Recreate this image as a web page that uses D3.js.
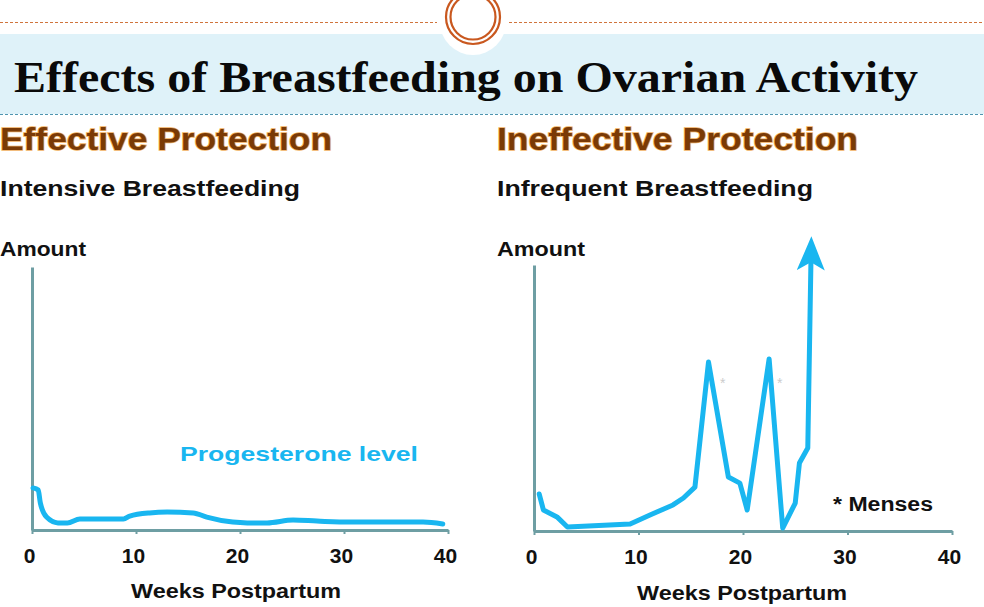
<!DOCTYPE html>
<html>
<head>
<meta charset="utf-8">
<script src="https://cdn.jsdelivr.net/npm/d3@7"></script>
<style>
	body { margin: 0; background: #fff; }
	svg { display: block; }
	.sans { font-family: "Liberation Sans", Arial, sans-serif; font-weight: bold; }
	.axis path { stroke: #6e9ea3; stroke-width: 3; }
	.axis line { stroke: #6e9ea3; stroke-width: 2; }
	.axis text { font-family: "Liberation Sans", Arial, sans-serif; font-weight: bold; font-size: 21px; fill: #111; }
</style>
</head>
<body>
<script>

// data (weeks postpartum, relative amount 0-100)
var weekTicks = [0, 10, 20, 30, 40];

var intensiveWeeks  = [0.1, 0.6, 0.8, 1.4, 2.5, 3.4, 4.6, 6.5, 8.8, 9.4, 11.3, 13.0, 15.5, 16.8, 19.3, 20.7, 22.6, 25.1, 27.4, 30.6, 33.8, 37.6, 39.5];
var intensiveAmount = [16.0, 15.2, 10.3, 4.9, 2.7, 2.7, 4.2, 4.2, 4.2, 5.3, 6.5, 6.8, 6.5, 4.9, 3.0, 2.7, 2.7, 3.8, 3.4, 3.0, 3.0, 3.0, 2.3];

var infrequentWeeks  = [0.5, 0.9, 2.2, 3.2, 9.2, 11.1, 13.3, 14.3, 15.4, 16.7, 18.6, 19.7, 20.4, 22.5, 23.8, 25.0, 25.4, 26.2, 26.5];
var infrequentAmount = [13.9, 7.9, 5.3, 1.5, 2.6, 6.0, 9.8, 12.4, 16.5, 63.5, 20.3, 18.0, 7.9, 64.7, 1.1, 10.5, 25.6, 31.2, 101];

var w = 984;
var h = 607;
var blue = "#19b6f0";

var svg = d3.select("body")
	.append("svg")
	.attr("width", w)
	.attr("height", h);

// header band
svg.append("rect")
	.attr("x", 0).attr("y", 34)
	.attr("width", w).attr("height", 80)
	.attr("fill", "#dff2f9");

svg.append("line")
	.attr("x1", 0).attr("x2", w)
	.attr("y1", 114.5).attr("y2", 114.5)
	.attr("stroke", "#4f95b0")
	.attr("stroke-width", 1)
	.attr("stroke-dasharray", "3,2");

svg.append("line")
	.attr("x1", 0).attr("x2", 437)
	.attr("y1", 22.5).attr("y2", 22.5)
	.attr("stroke", "#d0743c")
	.attr("stroke-width", 1)
	.attr("stroke-dasharray", "3,2");

svg.append("line")
	.attr("x1", 509).attr("x2", w)
	.attr("y1", 22.5).attr("y2", 22.5)
	.attr("stroke", "#d0743c")
	.attr("stroke-width", 1)
	.attr("stroke-dasharray", "3,2");

// circle ornament
svg.append("circle")
	.attr("cx", 473).attr("cy", 22).attr("r", 33)
	.attr("fill", "#fff");

svg.append("circle")
	.attr("cx", 473).attr("cy", 17).attr("r", 27)
	.attr("fill", "none")
	.attr("stroke", "#c9581f")
	.attr("stroke-width", 2.2);

svg.append("circle")
	.attr("cx", 473).attr("cy", 17).attr("r", 22.5)
	.attr("fill", "none")
	.attr("stroke", "#c9581f")
	.attr("stroke-width", 2.2);

svg.append("text")
	.text("Effects of Breastfeeding on Ovarian Activity")
	.attr("x", 14)
	.attr("y", 92)
	.attr("font-family", "'Liberation Serif', 'Times New Roman', serif")
	.attr("font-weight", "bold")
	.attr("font-size", "45px")
	.attr("textLength", 904)
	.attr("lengthAdjust", "spacingAndGlyphs")
	.attr("fill", "#0a0a0a");

// arrow head for the rising line
svg.append("defs")
	.append("marker")
	.attr("id", "arrow")
	.attr("markerUnits", "userSpaceOnUse")
	.attr("viewBox", "0 0 34 28")
	.attr("markerWidth", 34)
	.attr("markerHeight", 28)
	.attr("refX", 8)
	.attr("refY", 14)
	.attr("orient", "auto")
	.append("path")
	.attr("d", "M0,0 L34,14 L0,28 L8,14 Z")
	.attr("fill", blue);

function panel(opts) {
	var g = svg.append("g");

	var xScale = d3.scaleLinear()
		.domain([0, 40])
		.range([opts.x0, opts.x1]);

	var yScale = d3.scaleLinear()
		.domain([0, 100])
		.range([opts.y0, opts.y1]);

	// headings
	g.append("text")
		.text(opts.heading)
		.attr("class", "sans")
		.attr("x", opts.hx).attr("y", 150)
		.attr("font-size", "32px")
		.attr("textLength", opts.hw)
		.attr("lengthAdjust", "spacingAndGlyphs")
		.attr("fill", "#7a3a06")
		.attr("stroke", "#f0b060")
		.attr("stroke-width", 1.6)
		.attr("paint-order", "stroke");

	g.append("text")
		.text(opts.sub)
		.attr("class", "sans")
		.attr("x", opts.hx).attr("y", 196)
		.attr("font-size", "22px")
		.attr("textLength", opts.sw)
		.attr("lengthAdjust", "spacingAndGlyphs")
		.attr("fill", "#111");

	g.append("text")
		.text("Amount")
		.attr("class", "sans")
		.attr("x", opts.hx).attr("y", 256)
		.attr("font-size", "20px")
		.attr("textLength", opts.aw)
		.attr("lengthAdjust", "spacingAndGlyphs")
		.attr("fill", "#111");

	// axes
	g.append("g")
		.attr("class", "axis")
		.attr("transform", "translate(0," + opts.y0 + ")")
		.call(d3.axisBottom(xScale).tickValues(weekTicks).tickSizeInner(4).tickSizeOuter(0).tickPadding(14))
		.selectAll("text").attr("dx", -3);

	g.append("g")
		.attr("class", "axis")
		.attr("transform", "translate(" + opts.x0 + ",0)")
		.call(d3.axisLeft(yScale).tickValues([]).tickSizeOuter(0));

	g.append("text")
		.text("Weeks Postpartum")
		.attr("class", "sans")
		.attr("x", opts.wx).attr("y", opts.wy)
		.attr("text-anchor", "middle")
		.attr("font-size", "21px")
		.attr("textLength", 210)
		.attr("lengthAdjust", "spacingAndGlyphs")
		.attr("fill", "#111");

	var pts = opts.weeks.map((d, i) => [d, opts.amount[i]]);

	var line = d3.line()
		.x(d => xScale(d[0]))
		.y(d => yScale(d[1]))
		.curve(opts.curve);

	var path = g.append("path")
		.datum(pts)
		.attr("d", line)
		.attr("fill", "none")
		.attr("stroke", blue)
		.attr("stroke-width", 5)
		.attr("stroke-linejoin", "round")
		.attr("stroke-linecap", "round");

	if (opts.arrow) path.attr("marker-end", "url(#arrow)");

	return g;
}

panel({
	x0: 32, x1: 448, y0: 530, y1: 267,
	hx: 0, hw: 332, sw: 300, aw: 86,
	heading: "Effective Protection",
	sub: "Intensive Breastfeeding",
	wx: 236, wy: 598,
	weeks: intensiveWeeks, amount: intensiveAmount,
	curve: d3.curveMonotoneX, arrow: false
});

panel({
	x0: 534, x1: 952, y0: 531, y1: 265,
	hx: 497, hw: 361, sw: 316, aw: 88,
	heading: "Ineffective Protection",
	sub: "Infrequent Breastfeeding",
	wx: 742, wy: 600,
	weeks: infrequentWeeks, amount: infrequentAmount,
	curve: d3.curveLinear, arrow: true
});

// annotations
svg.append("text")
	.text("Progesterone level")
	.attr("class", "sans")
	.attr("x", 180).attr("y", 461)
	.attr("font-size", "21px")
	.attr("textLength", 238)
	.attr("lengthAdjust", "spacingAndGlyphs")
	.attr("fill", blue);

svg.append("text")
	.text("* Menses")
	.attr("class", "sans")
	.attr("x", 833).attr("y", 511)
	.attr("font-size", "20px")
	.attr("textLength", 100)
	.attr("lengthAdjust", "spacingAndGlyphs")
	.attr("fill", "#111");

svg.selectAll("text.faint")
	.data([720, 777])
	.enter()
	.append("text")
	.attr("class", "faint")
	.text("*")
	.attr("x", d => d)
	.attr("y", 388)
	.attr("font-family", "'Liberation Sans', Arial, sans-serif")
	.attr("font-size", "14px")
	.attr("fill", "#cccccc");

</script>
</body>
</html>
